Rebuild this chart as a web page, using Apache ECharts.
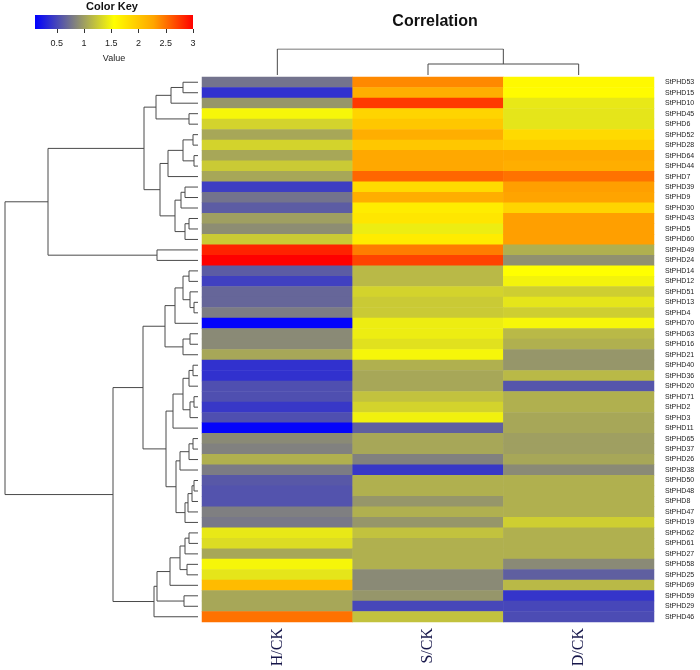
<!DOCTYPE html>
<html><head><meta charset="utf-8">
<script src="https://cdn.jsdelivr.net/npm/echarts@6/dist/echarts.min.js"></script>
<style>html,body{margin:0;padding:0;background:#fff}#c{width:700px;height:670px}</style>
</head><body><div id="c"></div>
<script>
const columns = ['H/CK', 'S/CK', 'D/CK'];
const genes = ['StPHD53','StPHD15','StPHD10','StPHD45','StPHD6','StPHD52','StPHD28','StPHD64','StPHD44','StPHD7',
  'StPHD39','StPHD9','StPHD30','StPHD43','StPHD5','StPHD60','StPHD49','StPHD24','StPHD14','StPHD12',
  'StPHD51','StPHD13','StPHD4','StPHD70','StPHD63','StPHD16','StPHD21','StPHD40','StPHD36','StPHD20',
  'StPHD71','StPHD2','StPHD3','StPHD11','StPHD65','StPHD37','StPHD26','StPHD38','StPHD50','StPHD48',
  'StPHD8','StPHD47','StPHD19','StPHD62','StPHD61','StPHD27','StPHD58','StPHD25','StPHD69','StPHD59',
  'StPHD29','StPHD46'];
const hValues = [0.75,0.38,0.95,1.5,1.3,1.05,1.3,1.05,1.25,1.05,
  0.45,0.75,0.62,1.0,0.9,1.25,2.85,3.0,0.62,0.46,
  0.68,0.68,0.8,0.12,0.88,0.88,1.05,0.38,0.38,0.55,
  0.55,0.42,0.55,0.12,0.88,0.83,1.1,0.8,0.6,0.57,
  0.57,0.82,0.78,1.42,1.35,1.05,1.5,1.4,2.1,1.05,
  1.05,2.5];
const sValues = [2.4,2.2,2.75,1.9,2.0,2.2,2.0,2.25,2.25,2.55,
  1.85,2.2,1.7,1.75,1.45,1.7,2.45,2.7,1.15,1.15,
  1.3,1.25,1.25,1.45,1.45,1.38,1.5,1.1,1.05,1.05,
  1.2,1.3,1.47,0.64,1.05,1.05,0.83,0.42,1.1,1.1,
  0.95,1.1,0.95,1.2,1.1,1.1,1.1,0.88,0.88,0.95,
  0.5,1.2];
const dValues = [1.6,1.58,1.42,1.4,1.4,1.85,1.95,2.25,2.2,2.5,
  2.3,2.28,1.9,2.3,2.3,2.3,1.1,0.92,1.55,1.48,
  1.27,1.4,1.27,1.5,1.15,1.1,0.95,0.95,1.15,0.58,
  1.1,1.1,1.05,1.05,1.0,1.0,1.05,0.88,1.1,1.1,
  1.1,1.1,1.27,1.1,1.1,1.1,0.88,0.64,1.15,0.4,
  0.5,0.53];
const keyTicks = [0.5, 1, 1.5, 2, 2.5, 3];
const keyMin = 0.1, keyMax = 3;
const keyColors = ['#0000FF', '#808080', '#FFFF00', '#FFA500', '#FF0000'];
// row dendrogram: node = [left, right, mergeHeight]; leaf = row index
const rowTree = [
  [
    [
      [[[0,1,1.5],2,2.7],[3,4,0.9],4.2],
      [
        [[[5,6,0.5],[7,8,0.4],1.5],9,3.0],
        [[[10,11,1.3],12,1.7],[[13,14,0.9],15,1.3],2.3],
        3.8
      ],
      5.4
    ],
    [16,17,4.1],
    15.0
  ],
  [
    [
      [
        [[[18,19,0.9],[20,[21,22,0.4],0.8],1.5],23,2.3],
        [[24,25,0.8],26,1.5],
        3.3
      ],
      [
        [[[[27,28,0.5],29,0.9],[[30,31,0.4],32,0.8],1.5],33,2.5],
        [[[[34,35,0.5],36,0.9],37,1.8],[[[[38,39,0.4],40,0.6],41,1.0],42,1.3],2.2],
        3.2
      ],
      5.5
    ],
    [[[[[[43,44,0.9],45,1.3],[46,47,1.1],1.8],48,2.8],[49,50,1.4],4.1],51,4.4],
    8.5
  ],
  19.3
];
const colTree = [0, [1, 2, 1.1], 2.6];

function walk(node, segs) {
  if (typeof node === 'number') return { pos: node, h: 0 };
  const a = walk(node[0], segs), b = walk(node[1], segs);
  const h = node[2];
  segs.push([[a.h, a.pos], [h, a.pos], [h, b.pos], [b.h, b.pos]]);
  return { pos: (a.pos + b.pos) / 2, h: h };
}
const rowSegs = []; walk(rowTree, rowSegs);
const colSegsRaw = []; walk(colTree, colSegsRaw);
const colSegs = colSegsRaw.map(s => s.map(p => [p[1], p[0]]));

const heatData = [];
[hValues, sValues, dValues].forEach((arr, ci) => arr.forEach((v, ri) => heatData.push([ci, ri, v])));

const chart = echarts.init(document.getElementById('c'), null, { renderer: 'canvas' });
const lineStyle = { color: '#4a4a4a', width: 1, opacity: 1 };
chart.setOption({
  animation: false,
  backgroundColor: '#fff',
  graphic: [
    { type: 'text', x: 435, y: 22, style: { text: 'Correlation', font: 'bold 16px Arial, "Liberation Sans", sans-serif', fill: '#111', textAlign: 'center', textVerticalAlign: 'middle' } },
    { type: 'text', x: 112, y: 7, style: { text: 'Color Key', font: 'bold 11px Arial, "Liberation Sans", sans-serif', fill: '#111', textAlign: 'center', textVerticalAlign: 'middle' } }
  ],
  grid: [
    { left: 202, top: 77, width: 452, height: 545 },
    { left: 5, top: 77, width: 193, height: 545 },
    { left: 202, top: 49, width: 452, height: 26 },
    { left: 35, top: 15, width: 158, height: 14 }
  ],
  xAxis: [
    { gridIndex: 0, type: 'category', data: columns, position: 'bottom',
      axisLine: { show: false }, axisTick: { show: false }, splitLine: { show: false },
      axisLabel: { rotate: 90, margin: 6, fontSize: 16, fontFamily: '"Liberation Serif", "Times New Roman", serif', color: '#16164a' } },
    { gridIndex: 1, type: 'value', min: 0, max: 19.3, inverse: true, show: false },
    { gridIndex: 2, type: 'value', min: -0.5, max: 2.5, show: false },
    { gridIndex: 3, type: 'value', min: keyMin, max: keyMax, position: 'bottom',
      axisLine: { show: false }, splitLine: { show: false },
      axisTick: { show: true, customValues: keyTicks, length: 4, lineStyle: { color: '#333' } },
      axisLabel: { customValues: keyTicks, fontSize: 9, color: '#222', margin: 10, fontFamily: 'Arial, "Liberation Sans", sans-serif' },
      name: 'Value', nameLocation: 'middle', nameGap: 25,
      nameTextStyle: { fontSize: 9, color: '#222', fontFamily: 'Arial, "Liberation Sans", sans-serif' } }
  ],
  yAxis: [
    { gridIndex: 0, type: 'category', data: genes, inverse: true, position: 'right',
      axisLine: { show: false }, axisTick: { show: false }, splitLine: { show: false },
      axisLabel: { fontSize: 7, margin: 11, color: '#222', interval: 0, fontFamily: 'Arial, "Liberation Sans", sans-serif' } },
    { gridIndex: 1, type: 'value', min: -0.5, max: genes.length - 0.5, inverse: true, show: false },
    { gridIndex: 2, type: 'value', min: 0, max: 2.6, show: false },
    { gridIndex: 3, type: 'value', min: 0, max: 1, show: false }
  ],
  visualMap: {
    type: 'continuous', show: false, min: keyMin, max: keyMax, seriesIndex: 0,
    inRange: { color: keyColors }
  },
  series: [
    { type: 'heatmap', xAxisIndex: 0, yAxisIndex: 0, data: heatData, itemStyle: { borderWidth: 0 }, emphasis: { disabled: true } },
    { type: 'lines', coordinateSystem: 'cartesian2d', xAxisIndex: 1, yAxisIndex: 1, polyline: true, silent: true,
      data: rowSegs.map(c => ({ coords: c })), lineStyle: lineStyle },
    { type: 'lines', coordinateSystem: 'cartesian2d', xAxisIndex: 2, yAxisIndex: 2, polyline: true, silent: true,
      data: colSegs.map(c => ({ coords: c })), lineStyle: lineStyle },
    { type: 'custom', xAxisIndex: 3, yAxisIndex: 3, silent: true, data: [[keyMin, keyMax]],
      renderItem: function (params, api) {
        const p0 = api.coord([api.value(0), 0]);
        const p1 = api.coord([api.value(1), 1]);
        const stops = keyColors.map((c, i) => ({ offset: i / (keyColors.length - 1), color: c }));
        return { type: 'rect', shape: { x: p0[0], y: p1[1], width: p1[0] - p0[0], height: p0[1] - p1[1] },
          style: { fill: new echarts.graphic.LinearGradient(0, 0, 1, 0, stops) } };
      } }
  ]
});
</script></body></html>
